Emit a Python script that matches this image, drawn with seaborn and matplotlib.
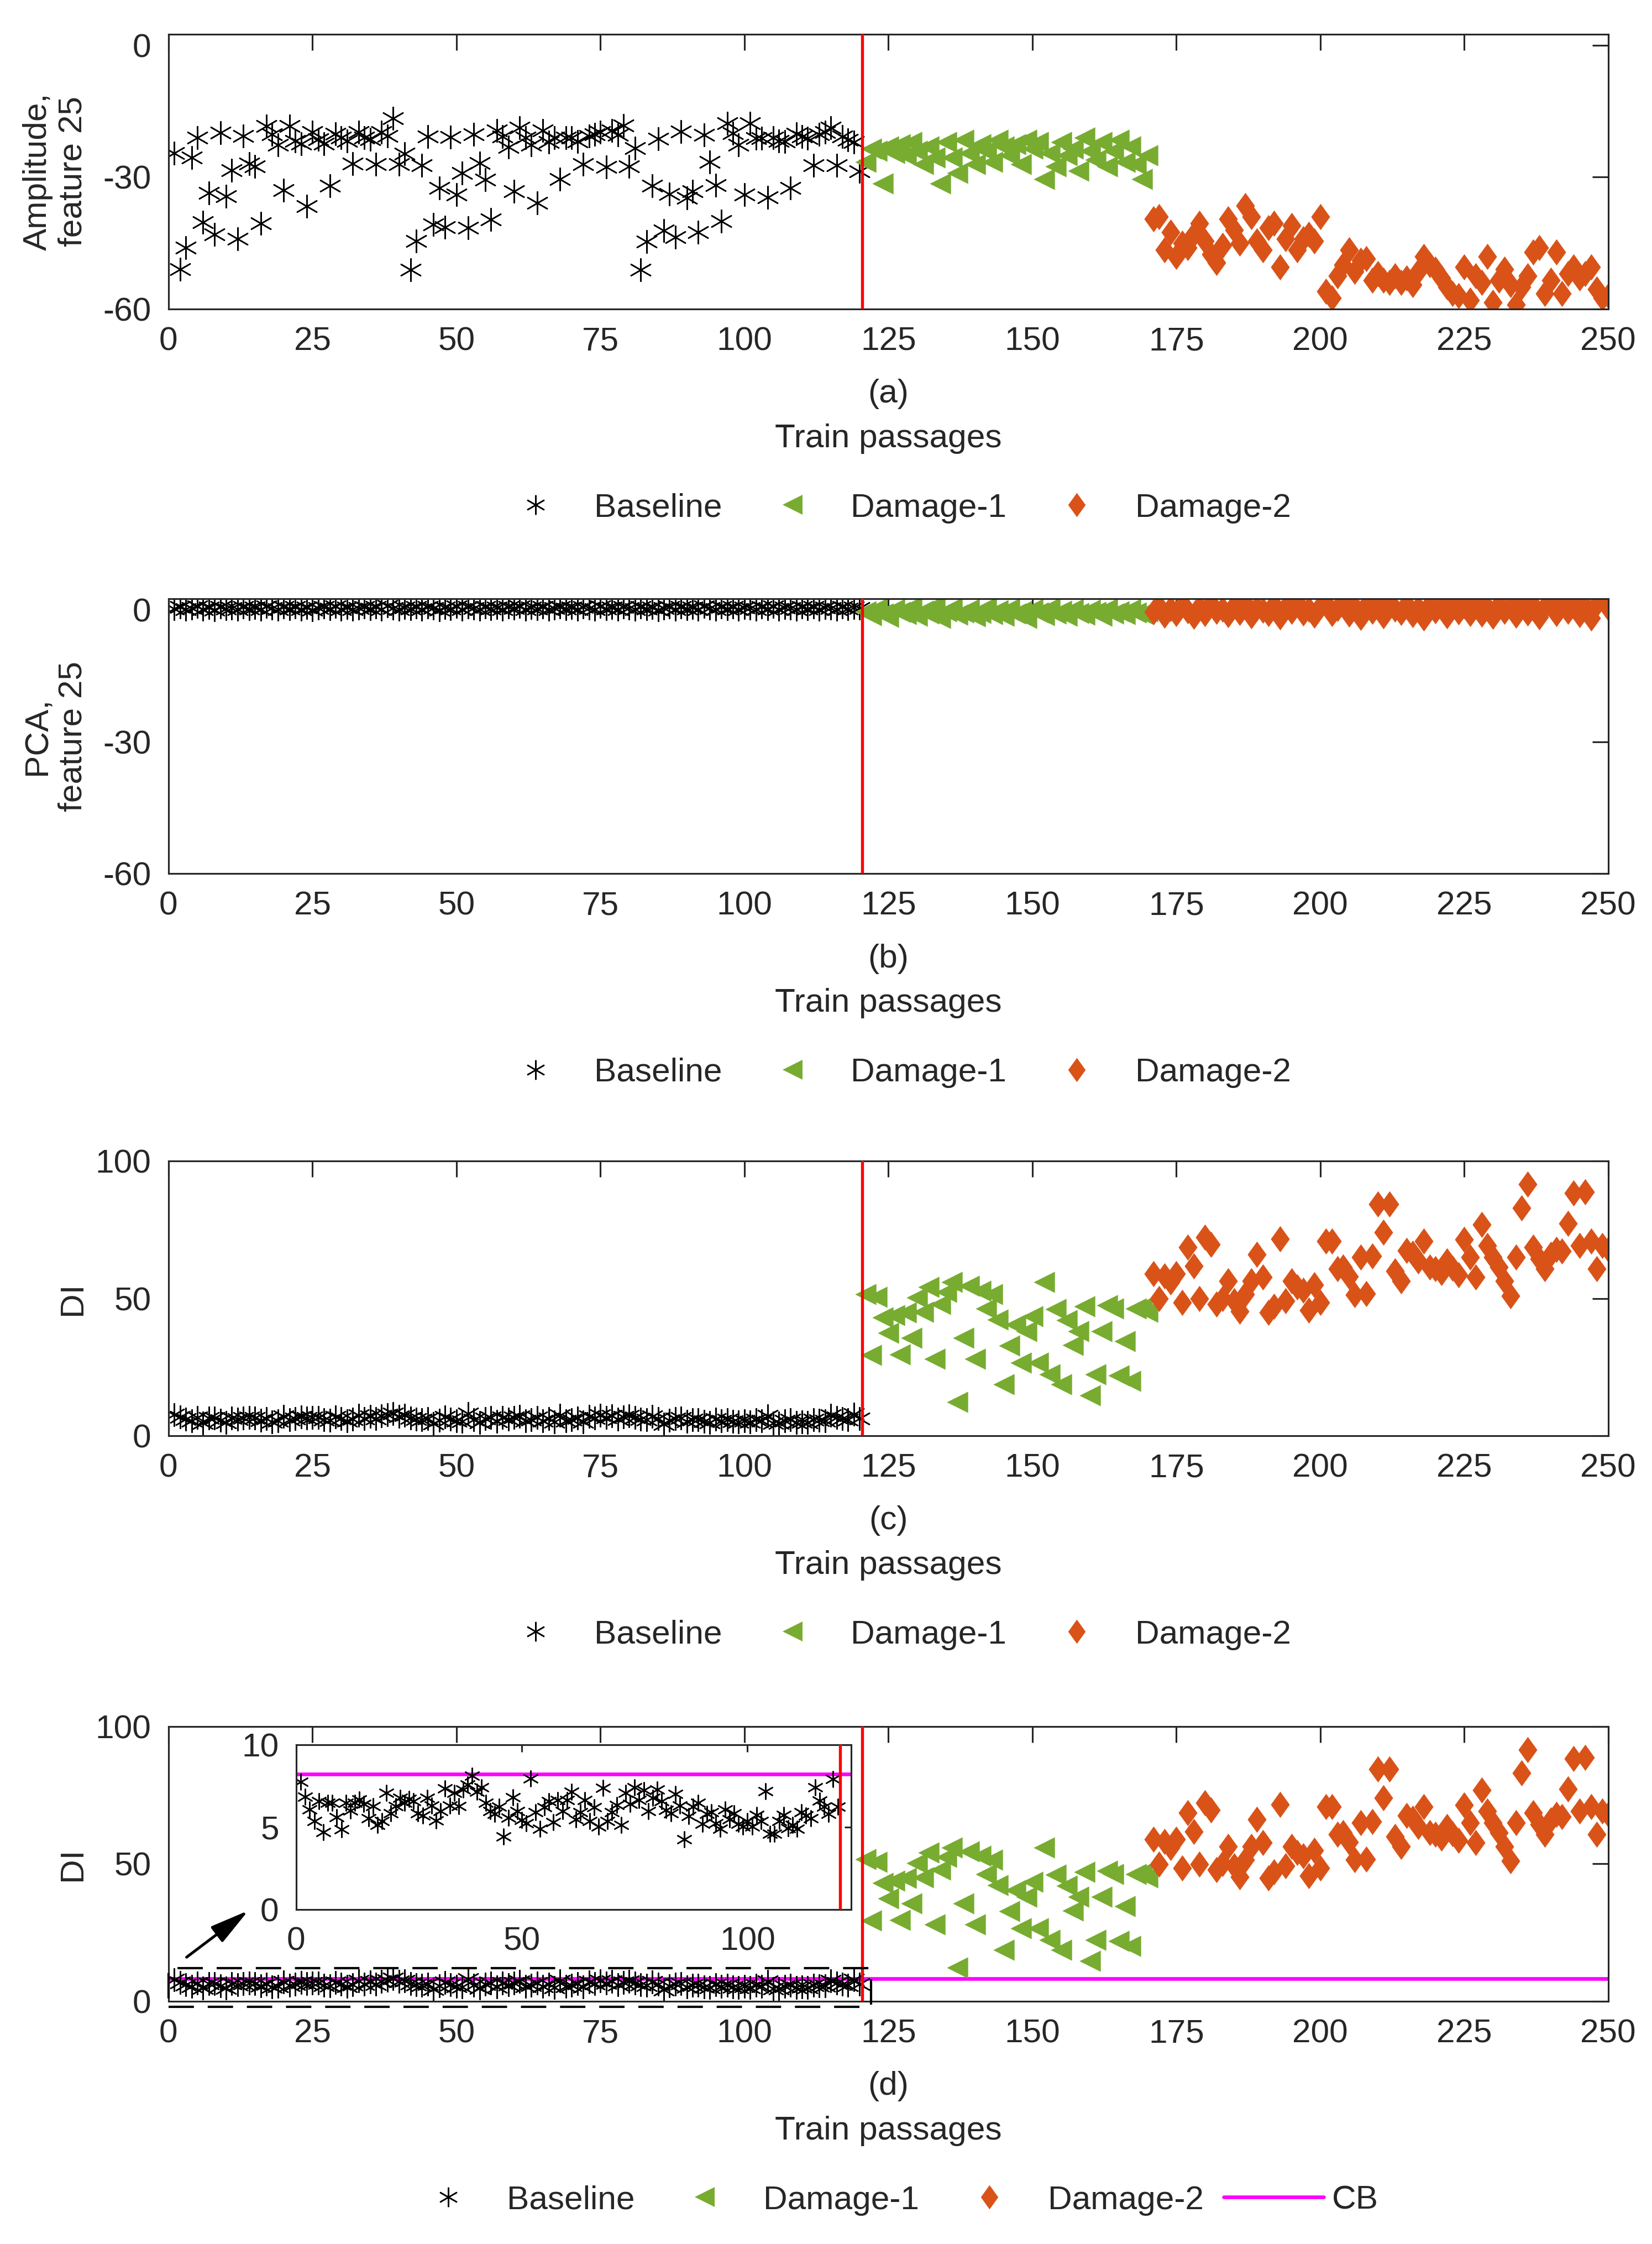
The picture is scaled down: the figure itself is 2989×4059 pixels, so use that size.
import numpy as np
import matplotlib
matplotlib.use('Agg')
import matplotlib.pyplot as plt
from matplotlib.lines import Line2D
from matplotlib.patches import Rectangle
import seaborn as sns

# passage numbers of the three states
base_x = list(range(1, 121))
d1_x = list(range(121, 171))
d2_x = list(range(171, 251))

# (a) amplitude of feature 25
amp_base = [-24.5, -51.0, -46.0, -25.6, -21.0, -40.3, -33.6, -43.0, -19.9, -34.4,
            -28.4, -44.0, -20.6, -26.9, -27.6, -40.5, -18.4, -20.2, -22.6, -33.0,
            -18.4, -21.8, -22.4, -36.6, -19.7, -21.4, -22.4, -31.9, -20.1, -21.0,
            -21.8, -26.9, -19.7, -21.0, -21.4, -27.0, -19.8, -20.6, -16.6, -27.0,
            -24.7, -51.1, -44.5, -27.3, -20.7, -40.8, -32.5, -41.4, -20.9, -34.0,
            -29.0, -41.5, -20.3, -26.8, -30.6, -39.6, -19.4, -20.7, -23.1, -33.2,
            -18.7, -21.0, -22.7, -35.9, -19.4, -22.0, -21.0, -30.4, -21.0, -21.0,
            -21.9, -27.0, -20.6, -20.3, -19.8, -27.7, -19.4, -20.4, -18.2, -27.6,
            -23.4, -51.1, -44.7, -32.0, -21.3, -42.2, -33.8, -43.6, -19.6, -34.7,
            -33.2, -42.5, -20.4, -26.5, -31.8, -40.0, -17.7, -20.0, -22.6, -34.0,
            -17.8, -21.2, -21.1, -34.6, -21.0, -21.8, -21.9, -32.5, -20.1, -20.8,
            -21.2, -27.3, -20.3, -19.8, -18.7, -27.3, -20.8, -21.5, -22.0, -28.7]
amp_d1 = [-26.5, -23.5, -24.0, -31.5, -23.0, -24.5, -22.5, -25.0, -22.0, -24.0,
          -27.0, -23.0, -25.5, -31.5, -22.0, -25.5, -29.0, -21.5, -24.5, -27.0,
          -22.5, -24.0, -26.5, -21.5, -23.0, -25.0, -22.5, -27.0, -21.5, -23.5,
          -22.0, -30.5, -24.5, -27.5, -22.0, -25.0, -23.5, -28.5, -21.0, -24.0,
          -26.0, -22.0, -27.5, -24.0, -21.5, -26.5, -23.0, -27.0, -30.5, -25.0]
amp_d2 = [-39.5, -39.0, -46.5, -42.5, -48.0, -45.0, -46.0, -43.0, -40.5, -44.5,
          -47.5, -49.5, -45.5, -39.5, -42.0, -45.0, -36.5, -39.0, -44.5, -46.5,
          -41.5, -40.5, -50.5, -44.0, -41.0, -46.5, -44.0, -43.0, -44.5, -39.0,
          -56.0, -57.5, -52.5, -50.0, -46.5, -51.5, -49.0, -48.5, -53.5, -52.0,
          -53.5, -54.0, -52.5, -54.0, -53.0, -54.5, -51.5, -48.0, -50.0, -51.0,
          -53.0, -55.0, -56.5, -57.0, -50.5, -58.0, -52.5, -54.0, -48.0, -58.5,
          -53.5, -51.0, -54.5, -59.0, -55.0, -52.5, -47.0, -46.0, -56.5, -53.5,
          -47.0, -56.5, -52.0, -50.5, -53.0, -52.0, -50.5, -55.5, -57.5, -57.0]

# (b) PCA of feature 25
pca_base = [0.3, 0.6, 0.1, 0.4, 0.8, 0.2, 0.5, 0.0, 0.7, 0.3,
            0.4, 0.1, 0.6, 0.3, 0.5, 0.2, 0.8, 0.4, 0.1, 0.6,
            0.3, 0.7, 0.2, 0.5, 0.0, 0.4, 0.6, 0.3, 0.8, 0.2,
            0.5, 0.1, 0.4, 0.7, 0.3, 0.6, 0.2, 0.9, 0.4, 0.1,
            0.5, 0.3, 0.7, 0.2, 0.6, 0.4, 0.0, 0.5, 0.3, 0.8,
            0.2, 0.6, 0.4, 0.1, 0.7, 0.3, 0.5, 0.2, 0.6, 0.4,
            0.8, 0.1, 0.5, 0.3, 0.6, 0.2, 0.4, 0.7, 0.3, 0.5,
            0.1, 0.6, 0.4, 0.2, 0.8, 0.3, 0.5, 0.1, 0.7, 0.4,
            0.2, 0.6, 0.3, 0.5, 0.0, 0.4, 0.7, 0.2, 0.6, 0.3,
            0.5, 0.1, 0.8, 0.4, 0.2, 0.6, 0.3, 0.7, 0.1, 0.5,
            0.4, 0.2, 0.6, 0.3, 0.8, 0.1, 0.5, 0.4, 0.2, 0.7,
            0.3, 0.6, 0.1, 0.5, 0.4, 0.2, 0.6, 0.3, 0.5, 0.4]
pca_d1 = [-0.4, -1.2, 0.3, -0.8, -1.6, 0.1, -0.5, -1.0, 0.6, -1.4,
          -0.2, -0.9, 0.9, -1.8, -0.3, 0.4, -1.1, -0.6, 0.2, -1.5,
          -0.7, 0.5, -1.0, -0.1, -1.3, 0.3, -0.8, -0.4, -1.9, 0.1,
          -0.6, -1.2, 0.4, -0.9, -0.2, -1.4, 0.2, -0.7, -1.1, 0.0,
          -0.5, -1.3, 0.3, -0.8, -0.3, -1.0, 0.1, -0.6, -0.9, -0.4]
pca_d2 = [-0.5, 0.8, -1.2, 0.3, -0.8, 1.1, -0.2, -1.5, 0.6, -0.9,
          1.4, -0.4, 0.2, -1.1, 0.9, -0.6, 1.6, -1.3, 0.4, -0.1,
          -0.9, 1.2, -1.6, 0.5, -0.3, 1.8, -0.7, 0.1, -1.2, 0.8,
          1.5, -0.8, 0.3, 2.1, -1.0, 0.6, -1.7, 1.0, -0.4, 0.9,
          -1.4, 1.7, 0.2, -0.6, 1.3, -1.1, 0.4, -1.9, 1.1, -0.2,
          0.7, -1.3, 1.6, -0.5, 0.9, -0.8, 2.0, -1.0, 0.5, -1.5,
          1.2, -0.3, 0.8, -1.2, 2.2, -0.7, 1.0, -1.6, 0.6, 1.9,
          -0.9, 1.4, -0.4, 2.4, -1.1, 0.8, -1.8, 1.3, 2.5, 0.4]

# (c), (d) damage index
di_base = [7.73, 6.84, 6.06, 5.34, 6.56, 4.70, 6.45, 6.47, 5.59, 4.84,
           6.45, 5.99, 6.45, 6.67, 6.40, 5.53, 6.26, 5.12, 5.34, 7.06,
           5.81, 6.26, 6.75, 6.45, 6.70, 6.56, 5.81, 5.68, 6.78, 6.29,
           5.40, 5.95, 7.34, 6.29, 7.06, 6.26, 7.28, 7.56, 8.12, 7.12,
           7.39, 6.45, 5.95, 5.79, 6.23, 4.40, 5.57, 6.81, 5.95, 5.43,
           5.23, 7.95, 5.90, 4.88, 6.18, 6.56, 5.29, 6.62, 5.95, 6.62,
           7.12, 5.45, 5.90, 6.62, 5.34, 6.18, 5.01, 7.36, 5.34, 5.90,
           6.34, 5.12, 7.06, 6.40, 7.39, 6.62, 7.23, 5.95, 6.78, 7.28,
           6.56, 6.01, 5.84, 7.01, 6.29, 4.24, 5.65, 6.23, 6.45, 5.18,
           5.79, 5.90, 5.23, 4.90, 6.06, 5.45, 5.84, 5.18, 5.01, 5.34,
           5.01, 5.73, 5.34, 7.17, 4.59, 4.59, 5.37, 5.73, 4.92, 5.12,
           4.90, 5.90, 5.68, 5.51, 7.39, 6.59, 6.23, 5.79, 7.89, 6.23]
di_d1 = [51.6, 29.3, 50.6, 43.1, 37.4, 43.8, 29.5, 44.9, 35.6, 50.3,
         45.0, 54.2, 27.9, 47.8, 52.4, 56.0, 12.2, 35.6, 54.6, 28.0,
         52.8, 46.3, 51.5, 42.2, 18.7, 32.7, 40.5, 26.6, 38.1, 43.5,
         26.6, 56.0, 22.3, 46.0, 18.7, 42.0, 33.0, 38.0, 47.0, 14.7,
         22.3, 38.0, 47.5, 46.3, 22.0, 34.5, 20.0, 46.3, 46.7, 45.0]
di_d2 = [58.9, 49.9, 58.2, 56.0, 58.9, 48.5, 68.6, 61.8, 49.9, 72.3,
         69.7, 47.8, 50.0, 56.4, 49.2, 45.3, 51.5, 56.4, 66.1, 57.8,
         44.9, 47.1, 71.6, 49.2, 56.4, 54.2, 53.0, 45.6, 55.0, 48.5,
         70.8, 70.8, 60.7, 61.4, 58.0, 51.4, 65.0, 51.7, 65.4, 84.4,
         74.1, 84.4, 60.0, 56.4, 67.5, 66.5, 63.6, 70.8, 61.4, 60.7,
         59.3, 63.6, 61.0, 58.5, 71.5, 65.0, 57.8, 76.9, 69.3, 65.0,
         61.4, 56.4, 51.0, 65.0, 83.0, 91.6, 68.6, 64.3, 60.7, 66.0,
         67.9, 67.2, 77.2, 88.4, 69.3, 88.8, 70.8, 60.7, 69.3, 67.9]

cb_value = 8.2
split_x = 120.5

GREEN = '#77AC30'
ORANGE = '#D95319'
AXC = '#262626'
AST = (6, 2, 0)
DIAM = [(0, 1), (0.72, 0), (0, -1), (-0.72, 0), (0, 1)]
FS = 14.5

sns.set_style('white')
plt.rcParams['font.family'] = ['Liberation Sans', 'DejaVu Sans']
plt.rcParams['font.size'] = FS
plt.rcParams['axes.unicode_minus'] = False


def style_axes(ax, xlim, ylim, xticks, yticks, ticklen=7):
    ax.set_xlim(xlim)
    ax.set_ylim(ylim)
    ax.set_xticks(xticks)
    ax.set_yticks(yticks)
    ax.tick_params(direction='in', length=ticklen, width=0.75, top=True, right=True,
                   pad=7.5, colors=AXC, labelsize=FS)
    for s in ax.spines.values():
        s.set_linewidth(0.75)
        s.set_color(AXC)


def draw_states(ax, yb, y1, y2):
    sns.scatterplot(x=base_x, y=yb, ax=ax, marker=AST, color='k', s=95, linewidth=0.6, zorder=2)
    sns.scatterplot(x=d1_x, y=y1, ax=ax, marker='<', color=GREEN, edgecolor=GREEN,
                    s=85, linewidth=0, zorder=2)
    sns.scatterplot(x=d2_x, y=y2, ax=ax, marker=DIAM, color=ORANGE, edgecolor=ORANGE,
                    s=130, linewidth=0, zorder=2)
    ax.axvline(split_x, color='#FF0000', lw=1.3, zorder=3)


def legend_handles():
    return [Line2D([], [], ls='none', marker=AST, color='k', ms=8.5, mew=0.6, label='Baseline'),
            Line2D([], [], ls='none', marker='<', color=GREEN, ms=8.5, mew=0, label='Damage-1'),
            Line2D([], [], ls='none', marker=DIAM, color=ORANGE, ms=10.5, mew=0, label='Damage-2')]


def labels(ax, tag, ylabel, handles, ncol):
    ax.text(0.5, -0.31, tag, transform=ax.transAxes, ha='center', va='center', color=AXC, fontsize=FS)
    ax.text(0.5, -0.503, 'Train passages', transform=ax.transAxes, ha='center', va='baseline',
            color=AXC, fontsize=FS)
    ax.set_ylabel(ylabel, color=AXC, fontsize=FS)
    ax.yaxis.set_label_coords(-0.056, 0.5)
    ax.legend(handles=handles, loc='center', bbox_to_anchor=(0.5, -0.725), ncol=ncol,
              frameon=False, handlelength=3, handletextpad=0.25, columnspacing=0.6, fontsize=FS)


fig = plt.figure(figsize=(2989 / 300, 4059 / 300), dpi=300)
left, width, height = 0.102, 0.8715, 0.1224
bottoms = [0.8623, 0.6107, 0.3602, 0.1082]
xt = list(range(0, 251, 25))

# (a)
ax = fig.add_axes([left, bottoms[0], width, height])
draw_states(ax, amp_base, amp_d1, amp_d2)
style_axes(ax, (0, 250), (-60, 2.5), xt, [-60, -30, 0])
labels(ax, '(a)', 'Amplitude,\nfeature 25', legend_handles(), 3)

# (b)
ax = fig.add_axes([left, bottoms[1], width, height])
draw_states(ax, pca_base, pca_d1, pca_d2)
style_axes(ax, (0, 250), (-60, 2.5), xt, [-60, -30, 0])
labels(ax, '(b)', 'PCA,\nfeature 25', legend_handles(), 3)

# (c)
ax = fig.add_axes([left, bottoms[2], width, height])
draw_states(ax, di_base, di_d1, di_d2)
style_axes(ax, (0, 250), (0, 100), xt, [0, 50, 100])
labels(ax, '(c)', 'DI', legend_handles(), 3)

# (d) with threshold and zoomed inset
ax = fig.add_axes([left, bottoms[3], width, height])
draw_states(ax, di_base, di_d1, di_d2)
ax.axhline(cb_value, color='#FF00FF', lw=1.6, zorder=1)
style_axes(ax, (0, 250), (0, 100), xt, [0, 50, 100])
hd = legend_handles() + [Line2D([], [], color='#FF00FF', lw=1.6, label='CB')]
labels(ax, '(d)', 'DI', hd, 4)

ax.add_patch(Rectangle((0, -2), 122, 14, fill=False, ec='k', lw=1.0,
                       ls=(0, (11, 6)), clip_on=False, zorder=4))
ax.annotate('', xy=(14.5, 34), xytext=(2.5, 15),
            arrowprops=dict(arrowstyle='-|>,head_length=0.6,head_width=0.15',
                            color='k', lw=1.2, mutation_scale=24))

ins = ax.inset_axes([0.0887, 0.3345, 0.3855, 0.600])
ins.set_facecolor('white')
sns.scatterplot(x=base_x, y=di_base, ax=ins, marker=AST, color='k', s=45, linewidth=0.6, zorder=2)
ins.axhline(cb_value, color='#FF00FF', lw=1.6, zorder=1)
ins.axvline(split_x, color='#FF0000', lw=1.3, zorder=3)
style_axes(ins, (0, 123), (0, 10), [0, 50, 100], [0, 5, 10], ticklen=3)

fig.savefig('out.png', dpi=300)
